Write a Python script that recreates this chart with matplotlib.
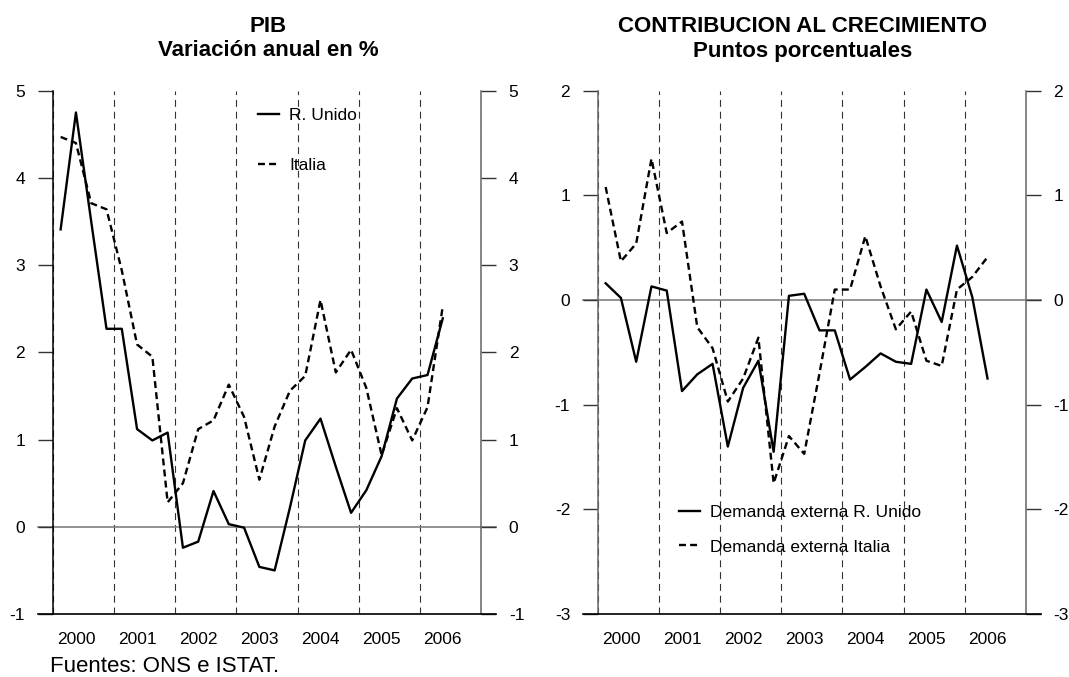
import numpy as np
import matplotlib
matplotlib.use("Agg")
import matplotlib.pyplot as plt

plt.rcParams["font.family"] = ["Liberation Sans", "DejaVu Sans"]
plt.rcParams["axes.unicode_minus"] = False
plt.rcParams["lines.scale_dashes"] = False

# quarterly data, 2000Q1 .. 2006Q2
years = ["2000", "2001", "2002", "2003", "2004", "2005", "2006"]

pib_uk = [3.41, 4.75, 3.50, 2.27, 2.27, 1.12, 0.99, 1.08, -0.24, -0.17, 0.41, 0.03, -0.01,
          -0.46, -0.50, 0.22, 0.99, 1.24, 0.69, 0.16, 0.42, 0.81, 1.47, 1.70, 1.74, 2.39]
pib_it = [4.47, 4.40, 3.71, 3.64, 2.94, 2.09, 1.95, 0.28, 0.50, 1.12, 1.22, 1.63, 1.26,
          0.54, 1.15, 1.56, 1.73, 2.60, 1.77, 2.03, 1.59, 0.82, 1.36, 0.99, 1.37, 2.53]

cont_uk = [0.16, 0.02, -0.59, 0.13, 0.09, -0.87, -0.71, -0.61, -1.40, -0.84, -0.58, -1.45, 0.04,
           0.06, -0.29, -0.29, -0.76, -0.64, -0.51, -0.59, -0.61, 0.10, -0.21, 0.52, 0.03, -0.75]
cont_it = [1.08, 0.37, 0.54, 1.35, 0.64, 0.75, -0.26, -0.46, -0.97, -0.75, -0.36, -1.75, -1.30,
           -1.47, -0.70, 0.10, 0.10, 0.61, 0.13, -0.28, -0.11, -0.58, -0.63, 0.10, 0.22, 0.41]

W, H = 1069, 677
DASH = (5, 3)


def panel(rect, uk, it, ylim, labels, leg_anchor, leg_spacing, left_color):
    ax = fig.add_axes(rect)
    x = np.arange(len(uk)) + 0.5
    ax.set_xlim(0, 4 * len(years))
    ax.set_ylim(*ylim)

    # year separators
    for xv in range(0, 4 * len(years) + 1, 4):
        ax.axvline(xv, color="#333333", lw=0.8, dashes=(5, 3.5), zorder=1)
    ax.axhline(0, xmin=-0.036, xmax=1.036, color="#808080", lw=1.2, clip_on=False, zorder=1)
    ax.axhline(ylim[0], xmin=-0.036, xmax=1.036, color="black", lw=1.2, clip_on=False, zorder=3)

    l1, = ax.plot(x, uk, color="black", lw=1.7, zorder=4)
    l2, = ax.plot(x, it, color="black", lw=1.7, dashes=DASH, zorder=4)

    for s in ("top", "bottom"):
        ax.spines[s].set_visible(False)
    ax.spines["left"].set_color(left_color)
    ax.spines["right"].set_color("#666666")
    ax.spines["left"].set_linewidth(1.1)
    ax.spines["right"].set_linewidth(1.1)

    ax.set_yticks(np.arange(ylim[0], ylim[1] + 1))
    ax.tick_params(axis="y", left=True, right=True, labelleft=True, labelright=True,
                   direction="out", length=11, width=1, color="#333333", pad=9,
                   labelsize=12.5)
    ax.set_xticks(np.arange(len(years)) * 4 + 1.5)
    ax.set_xticklabels(years)
    ax.tick_params(axis="x", length=0, pad=13, labelsize=12.5)

    ax.legend([l1, l2], labels, loc="upper left", bbox_to_anchor=leg_anchor,
              frameon=False, borderpad=0, borderaxespad=0, handlelength=1.2,
              handletextpad=0.6, labelspacing=leg_spacing, fontsize=12.5)
    return ax


fig = plt.figure(figsize=(W / 100, H / 100), dpi=100)

ax1 = panel([53 / W, 63 / H, 428 / W, 523.3 / H], pib_uk, pib_it, (-1, 5),
            ["R. Unido", "Italia"], (0.479, 0.968), 2.05, "black")
ax2 = panel([598 / W, 63 / H, 427.7 / W, 523.3 / H], cont_uk, cont_it, (-3, 2),
            ["Demanda externa R. Unido", "Demanda externa Italia"], (0.189, 0.208), 1.1, "#666666")

fig.text(268 / W, 1 - 26 / H, "PIB", ha="center", va="center", fontsize=16, weight="bold")
fig.text(268 / W, 1 - 51 / H, "Variación anual en %", ha="center", va="center",
         fontsize=16, weight="bold")
fig.text(803 / W, 1 - 26 / H, "CONTRIBUCION AL CRECIMIENTO", ha="center", va="center",
         fontsize=16, weight="bold")
fig.text(803 / W, 1 - 51 / H, "Puntos porcentuales", ha="center", va="center",
         fontsize=16, weight="bold")

fig.text(50 / W, 1 - 667 / H, "Fuentes: ONS e ISTAT.", ha="left", va="center", fontsize=16)

fig.savefig("out.png", dpi=100)
